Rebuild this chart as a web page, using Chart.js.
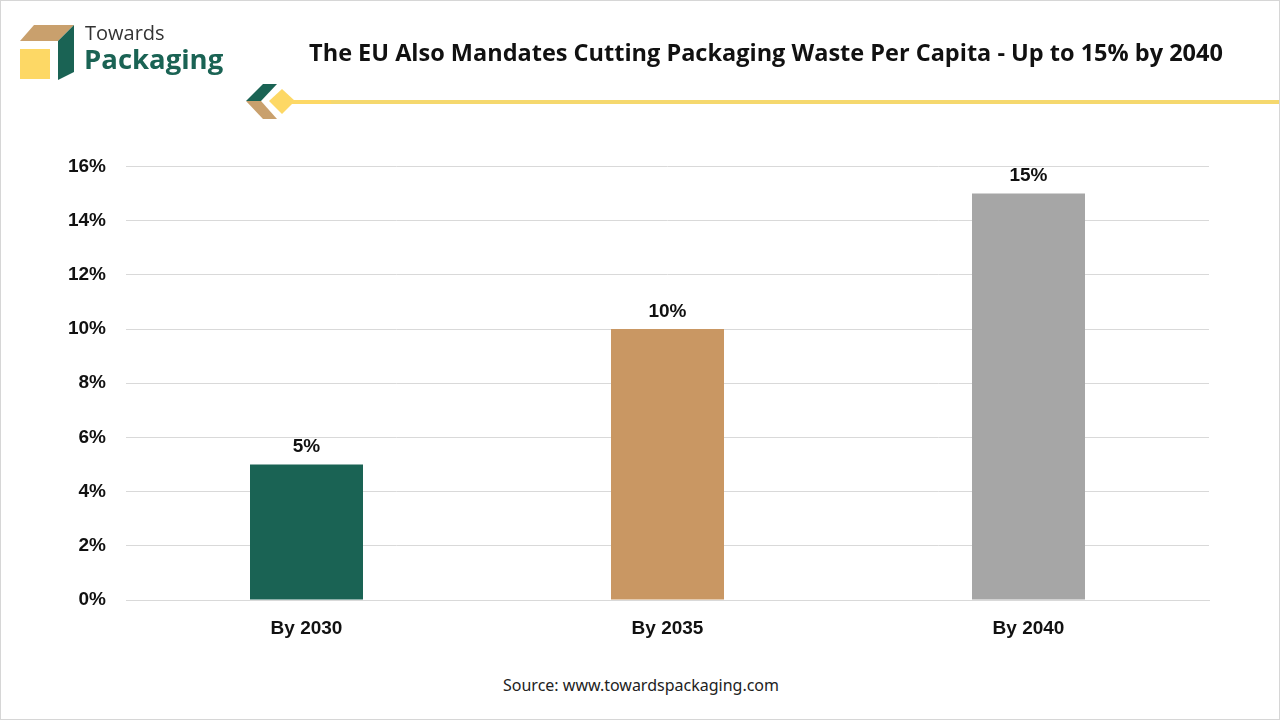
<!DOCTYPE html>
<html>
<head>
<meta charset="utf-8">
<script src="https://cdn.jsdelivr.net/npm/chart.js@4.4.1/dist/chart.umd.min.js"></script>
<style>
  html, body { margin: 0; padding: 0; background: #fff; }
  #page { position: relative; width: 1280px; height: 720px; overflow: hidden; background: #fff; box-sizing: border-box; border: 1px solid #d6d6d6; }
  #logo { position: absolute; left: 0; top: 0; }
  #title { position: absolute; left: 250px; top: 35px; width: 1030px; text-align: center; font: 700 23.5px "Open Sans", sans-serif; color: #111; }
  #chartBox { position: absolute; left: 0; top: 134px; width: 1240px; height: 524px; }
  #source { position: absolute; left: 0; top: 673px; width: 1280px; text-align: center; font: 16px "Noto Sans", sans-serif; color: #222; }
</style>
</head>
<body>
<div id="page">
  <canvas id="logo" width="330" height="130"></canvas>
  <div id="title">The EU Also Mandates Cutting Packaging Waste Per Capita - Up to 15% by 2040</div>
  <div id="chartBox"><canvas id="barChart"></canvas></div>
  <div id="source">Source: www.towardspackaging.com</div>
</div>
<script>
// chart data
const categories = ['By 2030', 'By 2035', 'By 2040'];
const cutValues = [5, 10, 15];
const barColors = ['#1a6354', '#c99763', '#a6a6a6'];
const yTicks = [0, 2, 4, 6, 8, 10, 12, 14, 16];

// logo + decoration
const lg = document.getElementById('logo').getContext('2d');
// cube
lg.fillStyle = '#c9a06d';
lg.beginPath(); lg.moveTo(19, 40); lg.lineTo(33, 24); lg.lineTo(73, 24); lg.lineTo(57, 40); lg.closePath(); lg.fill();
lg.fillStyle = '#1a6354';
lg.beginPath(); lg.moveTo(57, 40); lg.lineTo(73, 24); lg.lineTo(73, 71); lg.lineTo(57, 79); lg.closePath(); lg.fill();
lg.fillStyle = '#fdd865';
lg.fillRect(19, 48, 30, 30);
lg.fillStyle = '#333';
lg.font = '400 20px "Open Sans", sans-serif';
lg.fillText('Towards', 84, 39);
lg.fillStyle = '#1a6354';
lg.font = '700 27.5px "Open Sans", sans-serif';
lg.fillText('Packaging', 83, 68);
// small arrow marks
lg.fillStyle = '#1a6354';
lg.beginPath(); lg.moveTo(245, 100); lg.lineTo(262, 83); lg.lineTo(276, 83); lg.lineTo(260, 100); lg.closePath(); lg.fill();
lg.fillStyle = '#c9a06d';
lg.beginPath(); lg.moveTo(245, 100); lg.lineTo(260, 100); lg.lineTo(276, 118); lg.lineTo(262, 118); lg.closePath(); lg.fill();
lg.fillStyle = '#fdd865';
lg.beginPath(); lg.moveTo(268, 100); lg.lineTo(281, 88); lg.lineTo(294, 100); lg.lineTo(281, 113); lg.closePath(); lg.fill();
lg.fillRect(290, 99, 40, 4);

const pg = document.getElementById('page');
const line = document.createElement('div');
line.style.cssText = 'position:absolute;left:330px;top:99px;width:950px;height:4px;background:#f5d86e;';
pg.appendChild(line);

// value labels above bars
const valueLabels = {
  id: 'valueLabels',
  afterDatasetsDraw(chart) {
    const ctx = chart.ctx;
    const meta = chart.getDatasetMeta(0);
    ctx.save();
    ctx.font = 'bold 19px "Liberation Sans", Arial, sans-serif';
    ctx.fillStyle = '#111';
    ctx.textAlign = 'center';
    ctx.textBaseline = 'bottom';
    meta.data.forEach((bar, i) => {
      ctx.fillText(cutValues[i] + '%', bar.x, bar.y - 8);
    });
    ctx.restore();
  }
};

const ctx = document.getElementById('barChart').getContext('2d');
new Chart(ctx, {
  type: 'bar',
  data: {
    labels: categories,
    datasets: [{
      data: cutValues,
      backgroundColor: barColors,
      borderWidth: 0,
      barPercentage: 0.313,
      categoryPercentage: 1
    }]
  },
  options: {
    responsive: true,
    maintainAspectRatio: false,
    animation: false,
    layout: { padding: { top: 17, right: 32, bottom: 0, left: 0 } },
    plugins: {
      legend: { display: false },
      tooltip: { enabled: false }
    },
    scales: {
      x: {
        grid: { display: false, drawTicks: false },
        border: { display: true, color: '#d9d9d9' },
        ticks: {
          color: '#111',
          padding: 17,
          font: { family: '"Liberation Sans", Arial, sans-serif', size: 19, weight: 'bold' }
        },
        afterFit(axis) { axis.height = 59; }
      },
      y: {
        min: 0,
        max: 16,
        afterBuildTicks(axis) { axis.ticks = yTicks.map(v => ({ value: v })); },
        grid: { color: '#d9d9d9', drawTicks: false },
        border: { display: false },
        ticks: {
          color: '#111',
          padding: 20,
          callback: v => v + '%',
          font: { family: '"Liberation Sans", Arial, sans-serif', size: 19, weight: 'bold' }
        },
        afterFit(axis) { axis.width = 125; }
      }
    }
  },
  plugins: [valueLabels]
});
</script>
</body>
</html>
